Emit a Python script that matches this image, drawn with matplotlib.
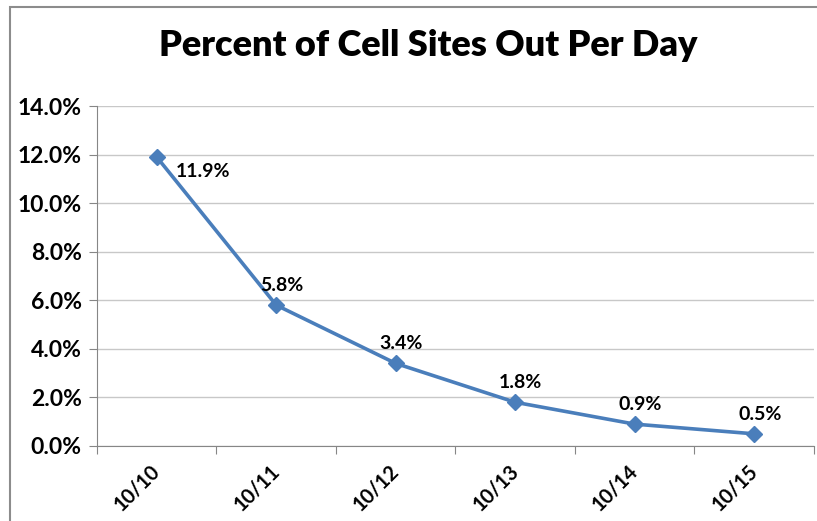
import matplotlib
matplotlib.use("Agg")
from matplotlib import pyplot as plt
from matplotlib.patches import Rectangle
from matplotlib.ticker import FuncFormatter
import numpy as np

# 데이터
dates = ["10/10", "10/11", "10/12", "10/13", "10/14", "10/15"]
pct_out = [11.9, 5.8, 3.4, 1.8, 0.9, 0.5]
labels = ["11.9%", "5.8%", "3.4%", "1.8%", "0.9%", "0.5%"]

plt.rcParams['font.family'] = ['Lato', 'DejaVu Sans']

fig = plt.figure(figsize=(8.17, 5.21), dpi=100)
ax = fig.add_axes([0.1187, 0.144, 0.8776, 0.6525])

# 차트 테두리 (잘린 형태)
fig.patches.append(Rectangle((10 / 817, -0.1), 1.2, 1 - 7 / 521 + 0.1,
                             transform=fig.transFigure, fill=False,
                             edgecolor="#8c8c8c", lw=1.5))

x = np.arange(len(dates)) + 0.5
ax.plot(x, pct_out, color="#4a7ebb", lw=2.6, marker="D", ms=8,
        markerfacecolor="#4a7ebb", markeredgecolor="#4a7ebb", clip_on=False)

for i, (xi, yi) in enumerate(zip(x, pct_out)):
    if i == 0:
        ax.annotate(labels[i], (xi, yi), xytext=(14, -4), textcoords="offset points",
                    ha="left", va="top", fontsize=14, fontweight="bold")
    else:
        ax.annotate(labels[i], (xi, yi), xytext=(4, 8), textcoords="offset points",
                    ha="center", va="bottom", fontsize=14, fontweight="bold")

ax.set_xlim(0, len(dates))
ax.set_ylim(0, 14)
ax.set_yticks(np.arange(0, 14.1, 2))
ax.yaxis.set_major_formatter(FuncFormatter(lambda v, p: f"{v:.1f}%"))
ax.set_xticks(np.arange(0, len(dates) + 1))
ax.set_xticklabels([])
ax.set_xticks(x, minor=True)
ax.set_xticklabels(dates, minor=True, rotation=45, ha="right", va="center",
                   rotation_mode="anchor", fontsize=14.5, fontweight="bold")
ax.tick_params(axis="x", which="minor", length=0, pad=16)
ax.tick_params(axis="x", which="major", length=6, color="#868686")
ax.tick_params(axis="y", length=6, color="#868686", labelsize=16.5, pad=5)
for lab in ax.get_yticklabels():
    lab.set_fontweight("bold")

ax.grid(axis="y", color="#c8c8c8", lw=1)
ax.set_axisbelow(True)
for s in ["top", "right"]:
    ax.spines[s].set_visible(False)
ax.spines["left"].set_color("#868686")
ax.spines["bottom"].set_color("#868686")

fig.text(0.524, 0.913, "Percent of Cell Sites Out Per Day", ha="center", va="center",
         fontsize=26, fontweight="heavy")

fig.savefig("out.png", dpi=100)
